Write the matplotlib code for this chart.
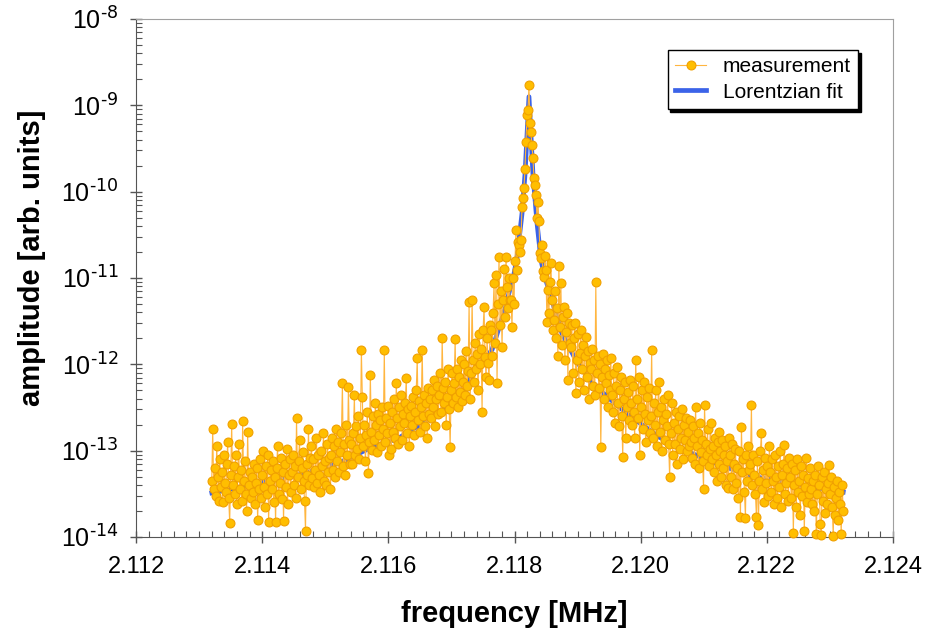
import numpy as np
import matplotlib
matplotlib.use("Agg")
import matplotlib.pyplot as plt
from matplotlib.ticker import FixedLocator, FixedFormatter, NullFormatter

plt.rcParams['font.family'] = ['Liberation Sans', 'DejaVu Sans']
plt.rcParams['mathtext.default'] = 'regular'
plt.rcParams['axes.unicode_minus'] = False

f_start, f_stop = 2.1132, 2.12321
meas_log10 = [
    -13.35, -12.75, -13.45, -13.20, -13.52, -12.95, -13.30, -13.58, -13.10, -13.42, -13.25, -13.60, -13.05, -13.38, -13.48, -13.15, -12.90, -13.55, -13.84, -13.28,
    -12.69, -13.40, -13.18, -13.50, -13.05, -13.62, -13.30, -12.92, -13.45, -13.22, -13.58, -12.66, -13.35, -13.12, -13.50, -13.70, -12.78, -13.40, -13.25, -13.55,
    -13.30, -13.48, -13.15, -13.62, -13.38, -13.20, -13.80, -13.45, -13.10, -13.55, -13.28, -13.00, -13.42, -13.65, -13.18, -13.50, -13.05, -13.83, -13.35, -13.22,
    -13.45, -13.12, -13.60, -13.30, -13.83, -13.20, -12.95, -13.50, -13.38, -13.08, -13.56, -13.25, -13.82, -13.15, -13.42, -12.98, -13.62, -13.28, -13.10, -13.48,
    -13.25, -13.05, -13.40, -13.18, -13.55, -12.62, -13.30, -13.12, -12.88, -13.45, -13.20, -13.02, -13.35, -13.58, -13.93, -13.15, -13.28, -12.75, -13.40, -13.08,
    -12.95, -13.32, -13.10, -13.42, -13.22, -12.85, -13.38, -13.05, -13.28, -13.48, -13.00, -13.18, -12.80, -13.35, -13.12, -13.40, -12.92, -13.25, -13.08, -13.45,
    -13.05, -12.85, -13.22, -12.95, -13.30, -12.75, -13.12, -12.90, -13.25, -13.02, -12.80, -12.22, -13.18, -12.92, -13.28, -12.70, -13.05, -12.26, -12.88, -13.15,
    -12.92, -13.15, -12.80, -12.36, -13.05, -12.72, -12.98, -12.60, -13.10, -12.85, -11.83, -12.38, -12.95, -12.70, -13.12, -12.82, -12.55, -13.26, -12.90, -12.12,
    -12.78, -12.99, -12.60, -12.88, -12.45, -12.70, -13.02, -12.58, -12.82, -12.65, -12.95, -12.50, -12.75, -11.83, -12.90, -12.62, -12.80, -12.48, -13.05, -12.68,
    -12.98, -12.55, -12.78, -12.40, -12.85, -12.22, -12.62, -12.92, -12.50, -12.72, -12.35, -12.88, -12.58, -12.68, -12.45, -12.16, -12.80, -12.52, -12.95, -12.60,
    -12.48, -12.70, -12.38, -12.82, -12.55, -12.30, -11.93, -12.65, -12.42, -12.78, -12.50, -11.83, -12.60, -12.35, -12.72, -12.45, -12.85, -12.28, -12.58, -12.40,
    -12.62, -12.30, -12.50, -12.18, -12.72, -12.40, -12.25, -12.58, -12.35, -12.10, -12.55, -11.70, -12.28, -12.45, -12.20, -12.70, -12.38, -12.05, -12.52, -12.96,
    -12.30, -12.10, -12.45, -12.22, -11.71, -12.38, -12.05, -12.50, -12.15, -12.32, -11.95, -12.42, -12.20, -12.00, -12.35, -11.85, -12.25, -12.08, -11.28, -12.40,
    -12.10, -11.25, -11.95, -12.20, -11.75, -12.05, -11.88, -12.30, -11.65, -12.00, -11.82, -12.55, -11.60, -11.34, -11.92, -12.15, -11.70, -11.98, -12.18, -11.55,
    -11.60, -11.90, -11.40, -11.06, -11.75, -10.97, -12.22, -11.30, -10.76, -11.55, -11.15, -11.80, -11.25, -10.90, -11.45, -10.76, -11.10, -11.35, -11.00, -11.25,
    -11.25, -11.57, -11.00, -11.30, -10.80, -10.44, -10.91, -10.58, -10.62, -10.70, -10.56, -10.18, -10.07, -9.96, -9.74, -9.42, -9.11, -9.05, -8.77, -9.20,
    -9.31, -9.46, -9.61, -9.84, -9.92, -10.04, -10.30, -10.12, -10.34, -10.71, -10.77, -10.62, -10.92, -10.99, -10.75, -10.91, -11.51, -11.14, -11.41, -11.05,
    -10.83, -11.25, -11.60, -11.49, -11.15, -11.70, -11.35, -11.90, -10.86, -11.57, -11.06, -11.78, -11.45, -11.34, -11.95, -11.62, -11.40, -12.18, -11.52, -11.75,
    -11.80, -11.55, -12.10, -11.70, -11.52, -12.33, -11.95, -11.65, -12.20, -11.87, -11.60, -12.05, -11.78, -12.30, -11.90, -11.68, -12.15, -11.85, -12.40, -11.98,
    -12.05, -11.82, -12.25, -11.95, -12.35, -11.05, -12.10, -11.90, -12.28, -12.00, -12.96, -12.15, -11.88, -12.40, -12.05, -12.22, -11.95, -12.50, -12.12, -12.30,
    -11.93, -12.35, -12.55, -12.10, -12.68, -12.25, -12.03, -12.45, -12.72, -12.30, -12.15, -12.60, -13.07, -12.40, -12.20, -12.85, -12.50, -12.32, -12.65, -12.18,
    -12.45, -12.70, -12.25, -12.55, -12.85, -11.95, -12.40, -12.62, -12.15, -13.05, -12.50, -12.30, -12.75, -12.20, -12.58, -12.90, -12.38, -12.65, -12.28, -12.80,
    -12.60, -11.83, -12.85, -12.45, -12.70, -12.30, -12.95, -12.55, -12.20, -12.78, -12.50, -13.00, -12.65, -12.40, -12.88, -12.58, -12.72, -12.35, -12.92, -13.31,
    -12.80, -12.45, -13.05, -12.68, -12.92, -12.55, -13.15, -12.75, -12.60, -12.98, -12.85, -12.52, -13.10, -12.70, -12.88, -12.62, -13.00, -12.78, -12.95, -12.65,
    -12.90, -13.08, -12.72, -12.85, -13.15, -12.49, -12.95, -12.80, -13.20, -12.68, -13.02, -12.88, -13.12, -13.44, -12.47, -12.92, -13.05, -12.75, -13.18, -12.98,
    -12.68, -13.10, -12.95, -13.25, -12.85, -13.05, -13.35, -12.90, -13.15, -12.78, -13.00, -13.30, -12.88, -13.20, -13.05, -12.95, -13.40, -13.12, -13.43, -12.85,
    -13.05, -13.30, -12.92, -13.45, -13.15, -12.98, -13.38, -13.20, -13.55, -13.00, -13.77, -12.73, -13.25, -13.10, -13.48, -13.78, -13.05, -13.35, -12.95, -13.22,
    -13.15, -12.47, -13.40, -13.05, -13.28, -13.50, -13.77, -13.12, -13.86, -13.35, -13.00, -12.80, -13.45, -13.22, -13.60, -13.08, -13.38, -13.18, -13.52, -12.95,
    -13.25, -13.48, -13.10, -13.35, -13.62, -13.05, -13.30, -13.55, -13.18, -13.42, -13.00, -13.65, -13.28, -13.15, -12.93, -13.50, -13.38, -13.20, -13.58, -13.08,
    -13.30, -13.55, -13.15, -13.95, -13.40, -13.22, -13.65, -13.10, -13.48, -13.35, -13.75, -13.18, -13.52, -13.28, -13.93, -13.42, -13.08, -13.60, -13.32, -13.50,
    -13.20, -13.45, -13.62, -13.35, -13.70, -13.28, -13.97, -13.50, -13.18, -13.40, -13.85, -13.98, -13.30, -13.58, -13.25, -13.72, -13.45, -13.62, -13.38, -13.17,
    -13.50, -13.30, -13.65, -13.99, -13.42, -13.75, -13.55, -13.35, -13.80, -13.48, -13.62, -13.96, -13.40, -13.70,
]

# Lorentzian fit curve
fit_freq = [2.113202, 2.113534, 2.113960, 2.114277, 2.114593, 2.114957, 2.115225,
            2.115652, 2.116174, 2.116696, 2.117012, 2.117391, 2.117644, 2.117866,
            2.117913, 2.117992, 2.118040, 2.118119, 2.118166, 2.118229, 2.118292,
            2.118356, 2.118419, 2.118466, 2.118577, 2.118751, 2.118972, 2.119225,
            2.119763, 2.120285, 2.120806, 2.121344, 2.121866, 2.122387, 2.123210]
fit_log10 = [-13.49, -13.44, -13.37, -13.32, -13.28, -13.20, -13.14,
             -12.99, -12.85, -12.61, -12.45, -12.07, -11.83, -11.32,
             -11.17, -10.95, -10.76, -10.25, -9.80, -8.90, -9.80,
             -10.36, -10.79, -10.95, -11.22, -11.64, -11.95, -12.22,
             -12.56, -12.84, -13.03, -13.19, -13.31, -13.38, -13.48]

x_ticks = [2.112, 2.114, 2.116, 2.118, 2.120, 2.122, 2.124]
x_tick_labels = ['2.112', '2.114', '2.116', '2.118', '2.120', '2.122', '2.124']
y_exponents = [-14, -13, -12, -11, -10, -9, -8]

meas_freq = np.linspace(f_start, f_stop, len(meas_log10))
meas_amp = 10.0 ** np.array(meas_log10)
fit_amp = 10.0 ** np.array(fit_log10)

fig = plt.figure(figsize=(9.26, 6.33), dpi=100)
ax = fig.add_axes([0.1469, 0.1517, 0.8175, 0.8183])

ax.plot(meas_freq, meas_amp, color='#FFB640', lw=0.8, marker='o', ms=6.4,
        mfc='#FFBE00', mec='#F0A000', mew=0.8, label='measurement',
        zorder=3, clip_on=False)
ax.plot(fit_freq, fit_amp, color='#3B63E8', lw=3.4, label='Lorentzian fit',
        zorder=2)

ax.set_yscale('log')
ax.set_ylim(1e-14, 1e-8)
ax.set_xlim(2.112, 2.124)

ax.xaxis.set_major_locator(FixedLocator(x_ticks))
ax.xaxis.set_major_formatter(FixedFormatter(x_tick_labels))
ax.xaxis.set_minor_locator(FixedLocator(np.linspace(2.112, 2.124, 61)))
ax.yaxis.set_major_locator(FixedLocator([10.0 ** e for e in y_exponents]))
# hyphen-style minus in the exponent, as in the original
ax.yaxis.set_major_formatter(FixedFormatter([r'$10^{\text{%d}}$' % e for e in y_exponents]))
y_minor = [m * 10.0 ** e for e in y_exponents[:-1] for m in range(2, 10)]
ax.yaxis.set_minor_locator(FixedLocator(y_minor))
ax.yaxis.set_minor_formatter(NullFormatter())

ax.tick_params(which='major', direction='inout', length=9, width=1,
               color='#555555', labelsize=17, top=False, right=False)
ax.tick_params(which='minor', direction='in', length=4, width=0.8,
               color='#555555', top=False, right=False)
ax.tick_params(axis='x', which='major', pad=9)
ax.tick_params(axis='y', which='major', pad=8, labelsize=18)

for side in ['left', 'bottom']:
    ax.spines[side].set_color('#555555')
for side in ['top', 'right']:
    ax.spines[side].set_color('#a0a0a0')

fig.text(514 / 926, 1 - 614 / 633, 'frequency [MHz]', ha='center', va='center',
         fontsize=21, fontweight='bold')
fig.text(32 / 926, 1 - 258 / 633, 'amplitude [arb. units]', ha='center',
         va='center', rotation=90, fontsize=21, fontweight='bold')

leg = ax.legend(loc='upper right', bbox_to_anchor=(0.954, 0.940),
                borderaxespad=0, fontsize=15, frameon=True, fancybox=False,
                framealpha=1, edgecolor='black', numpoints=1,
                handlelength=1.5, handletextpad=0.8, labelspacing=0.3,
                borderpad=0.35, shadow={'color': 'black', 'alpha': 1.0})
leg.get_frame().set_linewidth(1.0)

fig.savefig('out.png', dpi=100)
